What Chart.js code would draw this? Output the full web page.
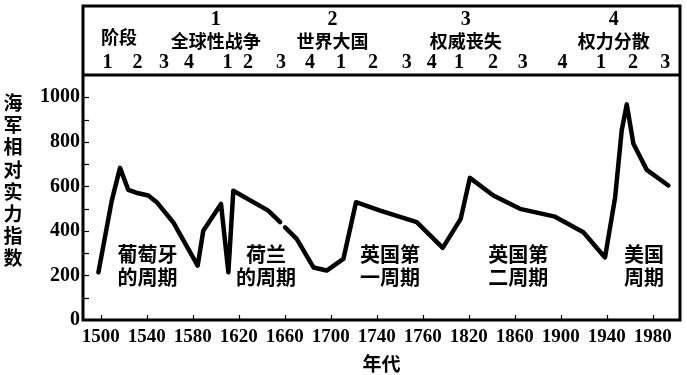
<!DOCTYPE html>
<html>
<head>
<meta charset="utf-8">
<script src="https://cdn.jsdelivr.net/npm/chart.js@4/dist/chart.umd.min.js"></script>
<style>
  html, body { margin: 0; padding: 0; background: #fff; }
  #wrap { width: 687px; height: 375px; }
</style>
</head>
<body>
<div id="wrap"><canvas id="c" width="687" height="375"></canvas></div>
<script>
// ---- data ----
const years = [1498, 1509.6, 1516.8, 1524, 1532.7, 1541.4, 1548.7, 1563, 1584.3, 1589.2, 1604.6, 1611, 1615.3, 1645.7, 1656, 1658, 1660.3, 1670.4, 1685, 1696.5, 1711, 1722, 1743, 1774.8, 1797.4, 1813, 1821, 1841.4, 1864.6, 1895, 1919.7, 1938.5, 1947.3, 1953, 1957.4, 1963.2, 1974.8, 1993.6];
const strength = [214, 536, 683, 584, 569, 559, 529, 439, 244, 401, 521, 214, 580, 491, 439, null, 416, 364, 236, 222, 274, 529, 491, 439, 324, 454, 638, 559, 499, 464, 394, 281, 551, 851, 968, 791, 674, 604];

const xTickLabels = ['1500', '1540', '1580', '1620', '1660', '1700', '1740', '1760', '1820', '1860', '1900', '1940', '1980'];
const xTickValues = [1500, 1540, 1580, 1620, 1660, 1700, 1740, 1780, 1820, 1860, 1900, 1940, 1980];

const yTitleText = '海军相对实力指数';
const xTitleText = '年代';

// header: phases
const headerTitle = '阶段';
const headerTitleYear = 1516;
const phaseNumbers = ['1', '2', '3', '4'];
const phaseNames = ['全球性战争', '世界大国', '权威丧失', '权力分散'];
const phaseYears = [1600, 1701.5, 1817.5, 1946];
const subPhaseNumbers = ['1', '2', '3', '4', '1', '2', '3', '4', '1', '2', '3', '4', '1', '2', '3', '4', '1', '2', '3'];
const subPhaseYears = [1505.9, 1532, 1555, 1576.8, 1610.3, 1628, 1656.8, 1682, 1709, 1736.8, 1766, 1787.8, 1811.6, 1841, 1867, 1901.6, 1934.9, 1962.9, 1990.8];

// cycle labels inside the plot
const cycleLine1 = ['葡萄牙', '荷兰', '英国第', '英国第', '美国'];
const cycleLine2 = ['的周期', '的周期', '一周期', '二周期', '周期'];
const cycleYears = [1540.7, 1643.7, 1751.6, 1863, 1972.5];

const serif = '"Liberation Serif", "DejaVu Serif", serif';
const cjk = '"Noto Sans CJK SC", "Noto Sans", sans-serif';

const decor = {
  id: 'decor',
  afterDraw(chart) {
    const ctx = chart.ctx;
    const xs = chart.scales.x, ys = chart.scales.y;
    const a = chart.chartArea;
    ctx.save();
    // inward ticks
    ctx.strokeStyle = '#000';
    ctx.lineWidth = 1.2;
    for (let v = 100; v <= 1000; v += 100) {
      const py = Math.round(ys.getPixelForValue(v)) + 0.5;
      ctx.beginPath(); ctx.moveTo(a.left, py); ctx.lineTo(a.left + 6, py); ctx.stroke();
    }
    xTickValues.forEach(v => {
      const px = Math.round(xs.getPixelForValue(v)) + 0.5;
      ctx.beginPath(); ctx.moveTo(px, a.bottom); ctx.lineTo(px, a.bottom - 5); ctx.stroke();
    });
    // frame + header box
    ctx.lineWidth = 3;
    ctx.beginPath();
    ctx.rect(a.left, 6, a.right - a.left, a.bottom - 6);
    ctx.moveTo(a.left, a.top); ctx.lineTo(a.right, a.top);
    ctx.stroke();

    ctx.fillStyle = '#000';
    ctx.textAlign = 'center';
    ctx.textBaseline = 'middle';
    // header
    ctx.font = 'bold 18px ' + cjk;
    ctx.fillText(headerTitle, xs.getPixelForValue(headerTitleYear), 37);
    phaseNames.forEach((n, i) => {
      const px = xs.getPixelForValue(phaseYears[i]);
      ctx.font = 'bold 18px ' + cjk;
      ctx.fillText(n, px, 41);
      ctx.font = 'bold 20px ' + serif;
      ctx.fillText(phaseNumbers[i], px, 20);
    });
    ctx.font = 'bold 20px ' + serif;
    subPhaseNumbers.forEach((n, i) => {
      ctx.fillText(n, xs.getPixelForValue(subPhaseYears[i]), 63);
    });
    // cycle labels
    ctx.font = 'bold 20px ' + cjk;
    cycleLine1.forEach((t, i) => {
      const px = xs.getPixelForValue(cycleYears[i]);
      ctx.fillText(t, px, 254);
      ctx.fillText(cycleLine2[i], px, 277);
    });
    // y title (vertical stacked characters)
    ctx.font = 'bold 19px ' + cjk;
    [...yTitleText].forEach((ch, i) => {
      ctx.fillText(ch, 13, 103 + i * 22.1);
    });
    ctx.restore();
  }
};

new Chart(document.getElementById('c'), {
  type: 'line',
  data: {
    datasets: [{
      data: years.map((x, i) => ({ x: x, y: strength[i] })),
      borderColor: '#000',
      borderWidth: 4.5,
      pointRadius: 0,
      tension: 0,
      spanGaps: false,
      borderJoinStyle: 'round',
      borderCapStyle: 'round'
    }]
  },
  options: {
    responsive: false,
    animation: false,
    devicePixelRatio: 1,
    layout: { padding: { top: 75, right: 7, left: 0, bottom: 0 } },
    plugins: { legend: { display: false }, tooltip: { enabled: false } },
    scales: {
      x: {
        type: 'linear',
        min: 1484.6,
        max: 2003.7,
        afterFit: s => { s.height = 55; },
        afterBuildTicks: s => { s.ticks = xTickValues.map(v => ({ value: v })); },
        grid: { display: false, drawTicks: false },
        border: { display: false },
        ticks: {
          autoSkip: false,
          maxRotation: 0,
          padding: 6,
          color: '#000',
          font: { family: serif, size: 19, weight: 'bold' },
          callback: (v) => {
            const i = xTickValues.indexOf(v);
            return i >= 0 ? xTickLabels[i] : '';
          }
        },
        title: {
          display: true,
          text: xTitleText,
          color: '#000',
          font: { family: cjk, size: 19, weight: 'bold' },
          padding: { top: 0, bottom: 0 }
        }
      },
      y: {
        min: 0,
        max: 1100,
        afterFit: s => { s.width = 83; },
        grid: { display: false, drawTicks: false },
        border: { display: false },
        ticks: {
          stepSize: 200,
          includeBounds: false,
          padding: 3,
          color: '#000',
          font: { family: serif, size: 20, weight: 'bold' },
          callback: (v) => String(v)
        }
      }
    }
  },
  plugins: [decor]
});
</script>
</body>
</html>
